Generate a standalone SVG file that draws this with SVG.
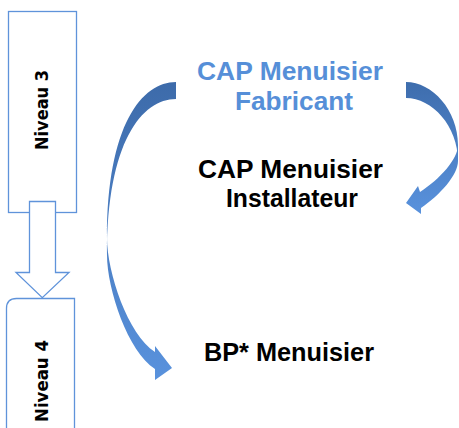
<svg xmlns="http://www.w3.org/2000/svg" width="459" height="428" viewBox="0 0 459 428">
<defs>
<linearGradient id="gL" gradientUnits="userSpaceOnUse" x1="0" y1="82" x2="0" y2="380">
<stop offset="0" stop-color="#3D6BAA"/>
<stop offset="1" stop-color="#5992DD"/>
</linearGradient>
<linearGradient id="gR" gradientUnits="userSpaceOnUse" x1="0" y1="82" x2="0" y2="214">
<stop offset="0" stop-color="#3E6DAD"/>
<stop offset="1" stop-color="#5992DD"/>
</linearGradient>
</defs>
<style>
.box{fill:#FFFFFF;stroke:#5F93DA;stroke-width:1.3}
.lvl{font-family:"DejaVu Sans",sans-serif;font-weight:bold;font-size:17px;fill:#000000;text-anchor:middle}
.t{font-family:"Liberation Sans",Arial,sans-serif;font-weight:bold;font-size:25px;text-anchor:middle}
.blue{fill:#568FD8}
.black{fill:#000000}
</style>
<rect width="459" height="428" fill="#FFFFFF"/>
<g id="niveau3">
<rect class="box" x="8.5" y="11.5" width="68" height="201"/>
<text class="lvl" transform="translate(47.5,110) rotate(-90)" textLength="80" lengthAdjust="spacingAndGlyphs">Niveau 3</text>
</g>
<g id="niveau4">
<path class="box" d="M6.5,440 V308.5 Q6.5,298.5 16.5,298.5 H74.5 V440"/>
<text class="lvl" transform="translate(47.5,381) rotate(-90)" textLength="82" lengthAdjust="spacingAndGlyphs">Niveau 4</text>
</g>
<g id="connectors">
<polygon class="box" points="29.5,201.5 55.5,201.5 55.5,272.5 69,272.5 42.3,297.7 16,272.5 29.5,272.5"/>
<path fill="url(#gL)" d="M176,82 C142,82 107,125 107,238 L107,255 C107,142 142,99 176,99 Z"/>
<path fill="url(#gL)" d="M107,238 C107,272 128,335 155,352 L155,346 L172,368 L155,380 L155,369 C128,352 107,289 107,255 Z"/>
<path fill="url(#gR)" d="M406,82 C432,82 458,110 458,145 L458,161 C458,126 432,98 406,98 Z"/>
<path fill="url(#gR)" d="M458,145 C458,159 440,179 420,192 L418,186 L406,203 L421,214 L421,208 C440,195 458,175 458,161 Z"/>
</g>
<g id="cap-fabricant">
<text class="t blue" x="290" y="80" textLength="186" lengthAdjust="spacingAndGlyphs">CAP Menuisier</text>
<text class="t blue" x="294" y="110" textLength="118" lengthAdjust="spacingAndGlyphs">Fabricant</text>
</g>
<g id="cap-installateur">
<text class="t black" x="290.5" y="178" textLength="185" lengthAdjust="spacingAndGlyphs">CAP Menuisier</text>
<text class="t black" x="292" y="207" textLength="132" lengthAdjust="spacingAndGlyphs">Installateur</text>
</g>
<g id="bp-menuisier">
<text class="t black" x="289" y="361" textLength="170" lengthAdjust="spacingAndGlyphs">BP* Menuisier</text>
</g>
</svg>
